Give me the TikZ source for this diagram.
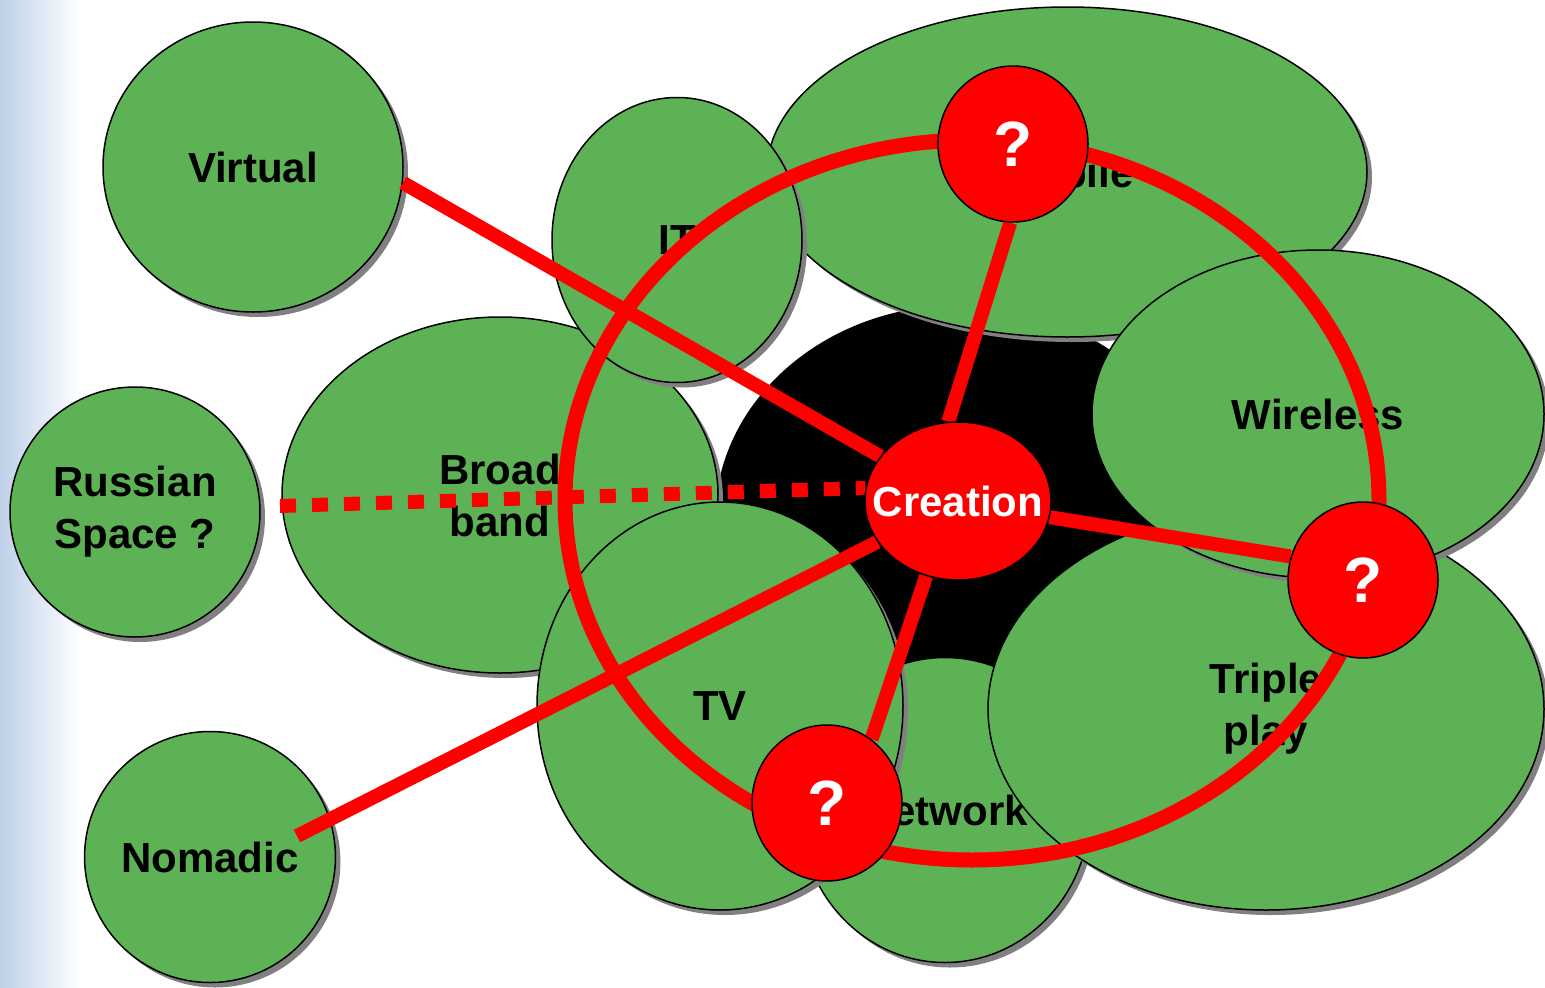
\documentclass[tikz,border=0pt]{standalone}
\usepackage{fontspec}
\setmainfont{Liberation Sans}
\usetikzlibrary{shapes.geometric,shadows}
\definecolor{leaf}{RGB}{94,178,86}
\definecolor{alarm}{RGB}{255,0,0}
\definecolor{sky}{RGB}{190,208,232}
\pgfdeclarelayer{bg}
\pgfdeclarelayer{green}
\pgfdeclarelayer{links}
\pgfsetlayers{bg,green,links,main}
\tikzstyle{bubble} = [ellipse, draw=black, line width=1.5pt, fill=leaf,
    inner sep=0pt, align=center, font=\fontsize{42}{52}\selectfont\bfseries,
    drop shadow={shadow xshift=5pt, shadow yshift=-5pt, fill=black!50, opacity=1}]
\tikzstyle{hub} = [ellipse, draw=black, line width=1.5pt, fill=alarm,
    text=white, inner ysep=0pt, inner xsep=-21pt, font=\fontsize{42}{50}\selectfont\bfseries]
\tikzstyle{query} = [hub, inner xsep=0pt, minimum width=150pt, minimum height=156pt,
    font=\fontsize{64}{70}\selectfont\bfseries]
\tikzstyle{link} = [draw=alarm, line width=14pt]

\begin{document}
\begin{tikzpicture}[x=1pt,y=-1pt]
  \useasboundingbox (0,0) rectangle (1545,988);

  \begin{pgfonlayer}{bg}
    \shade[left color=sky, right color=white] (0,0) rectangle (80,988);
    \fill[black] (960,520) ellipse [x radius=245, y radius=215];
  \end{pgfonlayer}

  \begin{pgfonlayer}{green}
    \node[bubble, minimum width=600pt, minimum height=330pt] (mobile)    at (1067,172) {Mobile};
    \node[bubble, minimum width=436pt, minimum height=356pt] (broadband) at (500,495)  {Broad\\band};
    \node[bubble, minimum width=250pt, minimum height=285pt] (it)        at (677,240)  {IT};
    \node[bubble, minimum width=290pt, minimum height=305pt] (network)   at (945,810)  {Network};
    \node[bubble, minimum width=366pt, minimum height=408pt] (tv)        at (720,706)  {TV};
    \node[bubble, minimum width=556pt, minimum height=402pt] (triple)    at (1266,709) {Triple\\play};
    \node[bubble, minimum width=452pt, minimum height=328pt] (wireless)  at (1318,414) {Wireless};
    \node[bubble, minimum width=300pt, minimum height=290pt] (virtual)   at (253,167)  {Virtual};
    \node[bubble, minimum width=250pt, minimum height=250pt] (russian)   at (135,512)  {Russian\\Space ?};
    \node[bubble, minimum width=250pt, minimum height=251pt] (nomadic)   at (210,857)  {Nomadic};
  \end{pgfonlayer}

  \node[hub, minimum width=186pt, minimum height=158pt] (creation) at (958,501) {Creation};
  \node[query] (qtop)    at (1013,144) {?};
  \node[query] (qright)  at (1363,580) {?};
  \node[query] (qbottom) at (827,803)  {?};

  \coordinate (russianend) at (280,506);
  \coordinate (nomadicend) at (297,836);

  \begin{pgfonlayer}{links}
    \draw[alarm, line width=15pt] (972,500) ellipse [x radius=407, y radius=360];
    \draw[link] (virtual.-6) -- (creation);
    \draw[link] (nomadicend) -- (creation);
    \draw[link, dash pattern=on 16pt off 16pt] (russianend) -- (creation.172);
    \draw[link] (creation.97) -- (qtop.-92);
    \draw[link] (creation.-10) -- (qright.162);
    \draw[link] (creation.-113) -- (qbottom.55);
  \end{pgfonlayer}
\end{tikzpicture}
\end{document}
